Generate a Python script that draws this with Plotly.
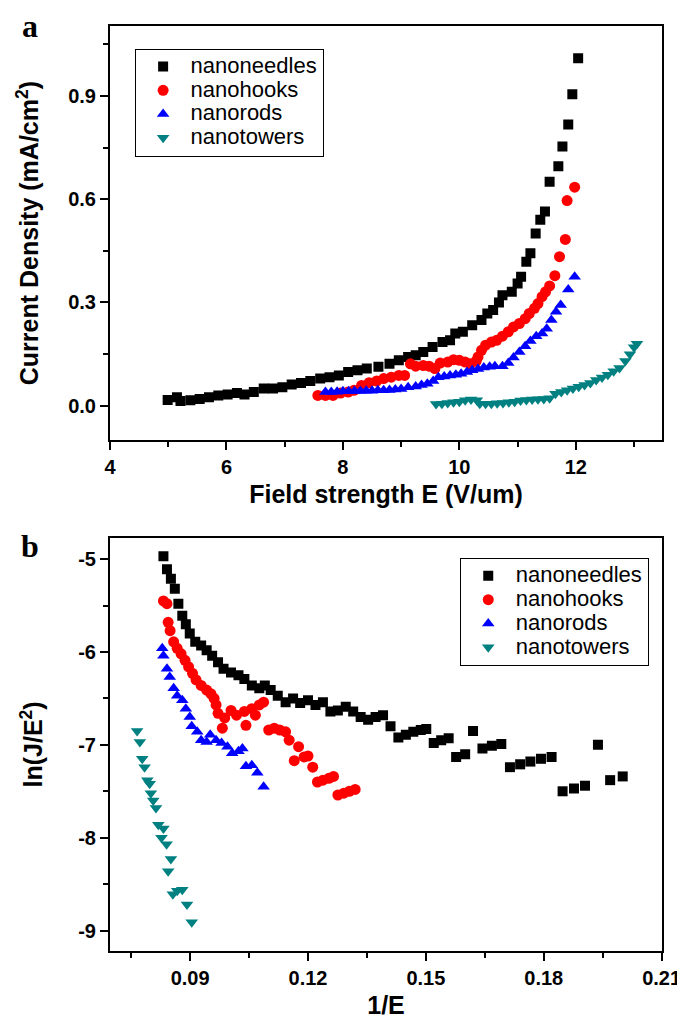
import plotly.graph_objects as go

# ---- panel a: J vs E ----
needles_E = [4.99, 5.15, 5.21, 5.38, 5.54, 5.70, 5.86, 6.02, 6.18, 6.31, 6.47, 6.64, 6.80, 6.96,
             7.12, 7.28, 7.44, 7.61, 7.77, 7.93, 8.09, 8.25, 8.41, 8.61, 8.80, 8.96, 9.12, 9.25,
             9.38, 9.54, 9.71, 9.84, 9.93, 10.06, 10.22, 10.38, 10.48, 10.58, 10.68, 10.74, 10.90,
             11.00, 11.06, 11.15, 11.22, 11.31, 11.39, 11.47, 11.55, 11.70, 11.77, 11.87, 11.94, 12.04]
needles_J = [0.017, 0.025, 0.014, 0.016, 0.020, 0.025, 0.030, 0.033, 0.037, 0.033, 0.040, 0.050, 0.050,
             0.054, 0.062, 0.066, 0.072, 0.079, 0.083, 0.088, 0.098, 0.103, 0.108, 0.113, 0.122, 0.132,
             0.142, 0.147, 0.156, 0.171, 0.185, 0.190, 0.210, 0.215, 0.234, 0.249, 0.268, 0.278, 0.300,
             0.321, 0.331, 0.355, 0.375, 0.418, 0.443, 0.500, 0.540, 0.564, 0.651, 0.696, 0.753, 0.817,
             0.905, 1.009]

hooks_E = [7.57, 7.70, 7.83, 7.96, 8.09, 8.19, 8.32, 8.45, 8.58, 8.70, 8.83, 8.96, 9.06, 9.16, 9.25,
           9.38, 9.48, 9.58, 9.67, 9.80, 9.90, 10.00, 10.10, 10.19, 10.29, 10.32, 10.38, 10.45, 10.55,
           10.64, 10.74, 10.84, 10.93, 11.03, 11.13, 11.20, 11.29, 11.35, 11.42, 11.48, 11.55, 11.64,
           11.72, 11.82, 11.85, 11.98]
hooks_J = [0.030, 0.030, 0.030, 0.037, 0.040, 0.045, 0.059, 0.067, 0.072, 0.079, 0.083, 0.088, 0.088,
           0.122, 0.115, 0.117, 0.115, 0.108, 0.124, 0.127, 0.134, 0.132, 0.127, 0.122, 0.130, 0.142,
           0.161, 0.176, 0.185, 0.190, 0.202, 0.215, 0.229, 0.239, 0.253, 0.268, 0.283, 0.297, 0.317,
           0.331, 0.348, 0.378, 0.433, 0.483, 0.596, 0.635]

rods_E = [7.70, 7.80, 7.90, 8.00, 8.10, 8.20, 8.30, 8.40, 8.50, 8.60, 8.70, 8.80, 8.90, 9.00, 9.12,
          9.25, 9.35, 9.45, 9.55, 9.64, 9.74, 9.84, 9.94, 10.03, 10.13, 10.22, 10.32, 10.42, 10.52,
          10.61, 10.74, 10.84, 10.93, 11.03, 11.13, 11.22, 11.32, 11.42, 11.50, 11.58, 11.66, 11.74,
          11.87, 11.98]
rods_J = [0.040, 0.040, 0.041, 0.042, 0.042, 0.043, 0.043, 0.044, 0.044, 0.045, 0.045, 0.046, 0.047,
          0.049, 0.054, 0.056, 0.060, 0.064, 0.072, 0.083, 0.085, 0.088, 0.090, 0.093, 0.098, 0.103,
          0.107, 0.111, 0.113, 0.115, 0.115, 0.124, 0.140, 0.156, 0.173, 0.188, 0.202, 0.210, 0.224,
          0.249, 0.273, 0.293, 0.338, 0.375]

towers_E = [9.60, 9.70, 9.80, 9.90, 10.00, 10.10, 10.20, 10.30, 10.35, 10.45, 10.55, 10.65, 10.75,
            10.85, 10.95, 11.05, 11.15, 11.25, 11.35, 11.45, 11.55, 11.65, 11.75, 11.85, 11.95, 12.05,
            12.15, 12.25, 12.35, 12.45, 12.55, 12.65, 12.75, 12.85, 12.93, 13.00, 13.05]
towers_J = [0.005, 0.006, 0.008, 0.010, 0.012, 0.016, 0.018, 0.016, 0.006, 0.006, 0.006, 0.007, 0.008,
            0.010, 0.012, 0.015, 0.017, 0.018, 0.019, 0.020, 0.022, 0.035, 0.040, 0.045, 0.050, 0.055,
            0.060, 0.066, 0.075, 0.082, 0.090, 0.100, 0.110, 0.130, 0.150, 0.170, 0.180]

# ---- panel b: ln(J/E^2) vs 1/E ----
needles_invE = [0.0832, 0.0841, 0.0851, 0.0861, 0.0870, 0.0880, 0.0889, 0.0899, 0.0913, 0.0928,
                0.0942, 0.0956, 0.0971, 0.0985, 0.1004, 0.1023, 0.1038, 0.1057, 0.1076, 0.1090,
                0.1105, 0.1123, 0.1143, 0.1162, 0.1180, 0.1200, 0.1219, 0.1238, 0.1257, 0.1276,
                0.1296, 0.1315, 0.1334, 0.1353, 0.1372, 0.1391, 0.1410, 0.1430, 0.1449, 0.1468,
                0.1487, 0.1501, 0.1520, 0.1539, 0.1558, 0.1577, 0.1600, 0.1620, 0.1644, 0.1668,
                0.1692, 0.1714, 0.1740, 0.1766, 0.1793, 0.1820, 0.1848, 0.1877, 0.1905, 0.1938,
                0.1969, 0.2001]
needles_ln = [-4.97, -5.11, -5.21, -5.32, -5.48, -5.61, -5.70, -5.80, -5.89, -5.93, -5.98, -6.04,
              -6.11, -6.18, -6.22, -6.25, -6.29, -6.36, -6.39, -6.36, -6.41, -6.47, -6.54, -6.50,
              -6.55, -6.52, -6.57, -6.54, -6.64, -6.63, -6.59, -6.64, -6.70, -6.73, -6.70, -6.68,
              -6.80, -6.92, -6.89, -6.86, -6.84, -6.83, -6.98, -6.95, -6.93, -7.13, -7.10, -6.85,
              -7.04, -7.01, -6.99, -7.24, -7.21, -7.18, -7.15, -7.13, -7.50, -7.47, -7.44, -7.00,
              -7.38, -7.34]

hooks_invE = [0.0832, 0.0841, 0.0844, 0.0849, 0.0858, 0.0867, 0.0877, 0.0887, 0.0896, 0.0906,
              0.0915, 0.0928, 0.0942, 0.0953, 0.0961, 0.0966, 0.0971, 0.0982, 0.0988, 0.1004,
              0.1018, 0.1038, 0.1042, 0.1057, 0.1066, 0.1076, 0.1087, 0.1100, 0.1114, 0.1128,
              0.1143, 0.1152, 0.1165, 0.1176, 0.1190, 0.1200, 0.1212, 0.1224, 0.1238, 0.1253,
              0.1265, 0.1276, 0.1291, 0.1305, 0.1320]
hooks_ln = [-5.45, -5.48, -5.68, -5.77, -5.89, -5.96, -6.02, -6.09, -6.16, -6.23, -6.30, -6.36,
            -6.41, -6.45, -6.50, -6.57, -6.66, -6.82, -6.71, -6.63, -6.68, -6.64, -6.79, -6.61,
            -6.68, -6.57, -6.54, -6.84, -6.82, -6.84, -6.86, -6.95, -7.17, -7.02, -7.13, -7.12,
            -7.24, -7.40, -7.38, -7.36, -7.34, -7.54, -7.52, -7.50, -7.48]

rods_invE = [0.0829, 0.0832, 0.0841, 0.0848, 0.0858, 0.0867, 0.0880, 0.0889, 0.0899, 0.0904,
             0.0918, 0.0928, 0.0942, 0.0951, 0.0966, 0.0980, 0.0995, 0.1007, 0.1023, 0.1033,
             0.1042, 0.1057, 0.1071, 0.1087]
rods_ln = [-5.96, -6.04, -6.18, -6.27, -6.39, -6.47, -6.52, -6.61, -6.70, -6.80, -6.86, -6.95,
           -6.97, -6.89, -6.95, -6.98, -7.02, -7.09, -7.07, -7.04, -7.23, -7.22, -7.30, -7.45]

towers_invE = [0.0765, 0.0772, 0.0778, 0.0784, 0.0791, 0.0797, 0.0800, 0.0806, 0.0813, 0.0819,
               0.0827, 0.0832, 0.0840, 0.0844, 0.0851, 0.0856, 0.0867, 0.0880, 0.0892, 0.0904]
towers_ln = [-6.85, -6.97, -7.15, -7.24, -7.38, -7.42, -7.52, -7.60, -7.68, -7.86, -8.00, -7.90,
             -8.07, -8.36, -8.23, -8.61, -8.57, -8.56, -8.72, -8.91]

names = ['nanoneedles', 'nanohooks', 'nanorods', 'nanotowers']
colors = ['#000000', '#ff0000', '#0000ff', '#008080']
symbols = ['square', 'circle', 'triangle-up', 'triangle-down']
sizes = [10, 11, 11, 11]

b_yticks = [-9, -8, -7, -6, -5]
b_yticktext = ['-9', '-8', '-7', '-6', '-5']

panel_a = [(needles_E, needles_J), (hooks_E, hooks_J), (rods_E, rods_J), (towers_E, towers_J)]
panel_b = [(needles_invE, needles_ln), (hooks_invE, hooks_ln), (rods_invE, rods_ln), (towers_invE, towers_ln)]


def legend_name(s):
    # legend rows stay compact (small legend font) while the label itself is larger
    return '<span style="font-size:22px">' + s + '</span>'


fig = go.Figure()
for i, (xs, ys) in enumerate(panel_a):
    fig.add_trace(go.Scatter(x=xs, y=ys, mode='markers', name=legend_name(names[i]),
                             marker=dict(symbol=symbols[i], size=sizes[i], color=colors[i]),
                             xaxis='x', yaxis='y', legend='legend'))
for i, (xs, ys) in enumerate(panel_b):
    fig.add_trace(go.Scatter(x=xs, y=ys, mode='markers', name=legend_name(names[i]),
                             marker=dict(symbol=symbols[i], size=sizes[i], color=colors[i]),
                             xaxis='x2', yaxis='y2', legend='legend2'))

tickfont = dict(family='Liberation Sans Narrow, Arial Narrow, Liberation Sans', size=20, color='black', weight='bold')
titlefont = dict(family='Liberation Sans, Arial', size=25, color='black', weight='bold')
minor_ticks = dict(ticks='outside', ticklen=5, tickwidth=2, tickcolor='black')
axis_common = dict(showline=True, linecolor='black', linewidth=2, mirror=True, showgrid=False,
                   zeroline=False, ticks='outside', ticklen=8, tickwidth=2, tickcolor='black',
                   tickfont=tickfont)

plot_h = 1019 - 18 - 72
dom_a = [(947 - 434) / plot_h, 1]
dom_b = [0, (947 - 532) / plot_h]

legend_common = dict(xanchor='left', yanchor='top', bgcolor='white', bordercolor='black',
                     borderwidth=1, itemwidth=45, tracegroupgap=0,
                     font=dict(family='Liberation Sans, Arial', size=16, color='black'))
label_font = dict(family='Liberation Serif, Times New Roman', size=32, color='black', weight='bold')

fig.update_layout(
    width=685, height=1019,
    margin=dict(l=102, r=23, t=18, b=72),
    paper_bgcolor='white', plot_bgcolor='white',
    showlegend=True,
    xaxis=dict(axis_common, domain=[0, 1], anchor='y', range=[4, 13.48], tick0=4, dtick=2,
               minor=dict(minor_ticks, dtick=1, tick0=4),
               title=dict(text='Field strength E (V/um)', font=titlefont, standoff=8)),
    yaxis=dict(axis_common, domain=dom_a, anchor='x', range=[-0.1, 1.103], tick0=0, dtick=0.3,
               tickformat='.1f',
               minor=dict(minor_ticks, dtick=0.15, tick0=0),
               title=dict(text='Current Density (mA/cm<sup>2</sup>)', font=titlefont, standoff=22)),
    xaxis2=dict(axis_common, domain=[0, 1], anchor='y2', range=[0.0696, 0.2101], tick0=0.09, dtick=0.03,
                tickformat='.2f',
                minor=dict(minor_ticks, dtick=0.015, tick0=0.075),
                title=dict(text='1/E', font=titlefont, standoff=8)),
    yaxis2=dict(axis_common, domain=dom_b, anchor='x2', range=[-9.22, -4.77],
                tickmode='array', tickvals=b_yticks, ticktext=b_yticktext,
                minor=dict(minor_ticks, dtick=0.5, tick0=-5),
                title=dict(text='ln(J/E<sup>2</sup>)', font=titlefont, standoff=28)),
    legend=dict(legend_common, x=0.0446, y=0.9756),
    legend2=dict(legend_common, x=0.6336, y=0.4249),
    annotations=[
        dict(text='a', xref='paper', yref='paper', x=-0.145, y=(947 - 18) / plot_h,
             xanchor='center', yanchor='middle', showarrow=False, font=label_font),
        dict(text='b', xref='paper', yref='paper', x=-0.145, y=(947 - 540) / plot_h,
             xanchor='center', yanchor='middle', showarrow=False, font=label_font),
    ],
)

fig.write_html("out.html")
